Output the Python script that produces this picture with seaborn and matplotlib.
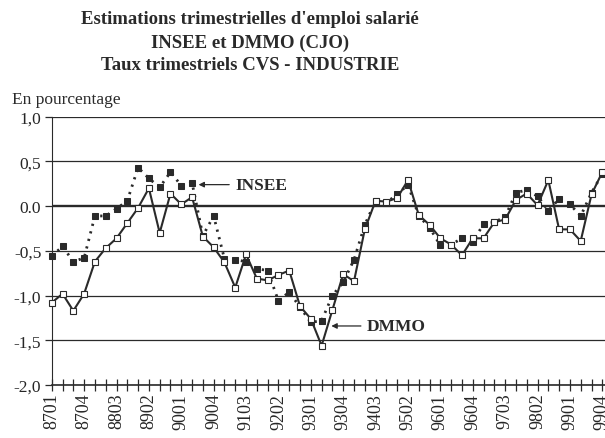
import matplotlib
matplotlib.use("Agg")
import pandas as pd
import matplotlib.pyplot as plt
import seaborn as sns

# quarters 8701 .. 9904
quarters = [f"{y}{q:02d}" for y in range(87, 100) for q in range(1, 5)]

dmmo = [-1.08, -0.98, -1.17, -0.98, -0.62, -0.47, -0.36, -0.19, -0.02, 0.20,
        -0.30, 0.14, 0.02, 0.10, -0.34, -0.46, -0.63, -0.91, -0.54, -0.81,
        -0.83, -0.77, -0.72, -1.12, -1.26, -1.56, -1.16, -0.76, -0.84, -0.26,
        0.06, 0.05, 0.09, 0.29, -0.10, -0.21, -0.36, -0.43, -0.55, -0.36,
        -0.36, -0.18, -0.15, 0.07, 0.14, 0.01, 0.29, -0.26, -0.26, -0.39,
        0.13, 0.38]

insee = [-0.56, -0.45, -0.62, -0.58, -0.11, -0.11, -0.03, 0.06, 0.43, 0.31,
         0.21, 0.38, 0.23, 0.26, -0.33, -0.11, -0.59, -0.60, -0.62, -0.70,
         -0.72, -1.06, -0.96, -1.13, -1.30, -1.28, -1.00, -0.85, -0.60, -0.21,
         0.06, 0.04, 0.13, 0.24, -0.11, -0.24, -0.44, -0.43, -0.36, -0.40,
         -0.20, -0.18, -0.12, 0.15, 0.18, 0.11, -0.05, 0.08, 0.02, -0.11,
         0.15, 0.36]

yticks = [1.0, 0.5, 0.0, -0.5, -1.0, -1.5, -2.0]
ytick_labels = ["1,0", "0,5", "0.0", "-0,5", "-1,0", "-1,5", "-2,0"]

df = pd.DataFrame({"pos": range(len(quarters)), "trimestre": quarters,
                   "INSEE": insee, "DMMO": dmmo})

sns.set_style("white")
plt.rcParams["font.family"] = ["Liberation Serif", "DejaVu Serif"]
ink = "#2a2a2a"

fig = plt.figure(figsize=(6.05, 4.39), dpi=100)
ax = fig.add_axes([0.0855, 0.1207, 0.9145, 0.6113])

# horizontal grid, zero line a bit heavier
for v in yticks:
    ax.axhline(v, color=ink, lw=1.7 if v == 0 else 0.9, zorder=1)

sns.lineplot(data=df, x="pos", y="INSEE", ax=ax, color=ink, lw=2.0,
             linestyle=(0, (0.8, 2.0)), marker="s", markersize=3.8,
             markerfacecolor=ink, markeredgecolor=ink, clip_on=False, zorder=3)
sns.lineplot(data=df, x="pos", y="DMMO", ax=ax, color=ink, lw=1.5,
             marker="s", markersize=4, markerfacecolor="white",
             markeredgecolor=ink, markeredgewidth=0.8, clip_on=False, zorder=4)

ax.set_xlim(0, 51.25)
ax.set_ylim(-2.0, 1.0)
ax.set_yticks(yticks)
ax.set_yticklabels(ytick_labels, fontsize=12.5)
ax.set_xticks(df["pos"])
ax.set_xticklabels([q if i % 3 == 0 else "" for i, q in enumerate(quarters)],
                   rotation=90, fontsize=13)
ax.tick_params(axis="x", direction="inout", length=8, width=0.9, color=ink,
               pad=1.5, bottom=True)
ax.tick_params(axis="y", direction="out", length=5, width=0.9, color=ink,
               pad=2.5, left=True)
ax.set_xlabel("")
ax.set_ylabel("")
for side in ["top", "right"]:
    ax.spines[side].set_visible(False)
ax.spines["left"].set_color(ink)
ax.spines["bottom"].set_color(ink)
ax.spines["bottom"].set_linewidth(1.2)

ax.annotate("INSEE", xy=(13.6, 0.24), xytext=(17.0, 0.24), fontsize=12.5,
            fontweight="bold", va="center", ha="left", color=ink,
            arrowprops=dict(arrowstyle="-|>", color=ink, lw=0.9,
                            mutation_scale=8, shrinkB=0))
ax.annotate("DMMO", xy=(25.9, -1.34), xytext=(29.2, -1.34), fontsize=12.5,
            fontweight="bold", va="center", ha="left", color=ink,
            arrowprops=dict(arrowstyle="-|>", color=ink, lw=0.9,
                            mutation_scale=8, shrinkB=0))

fig.text(0.413, 1 - 20 / 439, "Estimations trimestrielles d'emploi salarié",
         ha="center", va="center", fontsize=13.5, fontweight="bold", color=ink)
fig.text(0.413, 1 - 43 / 439, "INSEE et DMMO (CJO)",
         ha="center", va="center", fontsize=13.5, fontweight="bold", color=ink)
fig.text(0.413, 1 - 66 / 439, "Taux trimestriels CVS - INDUSTRIE",
         ha="center", va="center", fontsize=13.5, fontweight="bold", color=ink)
fig.text(12 / 605, 1 - 100 / 439, "En pourcentage", ha="left", va="center",
         fontsize=12.5, color=ink)

fig.savefig("out.png", dpi=100)
plt.close(fig)
